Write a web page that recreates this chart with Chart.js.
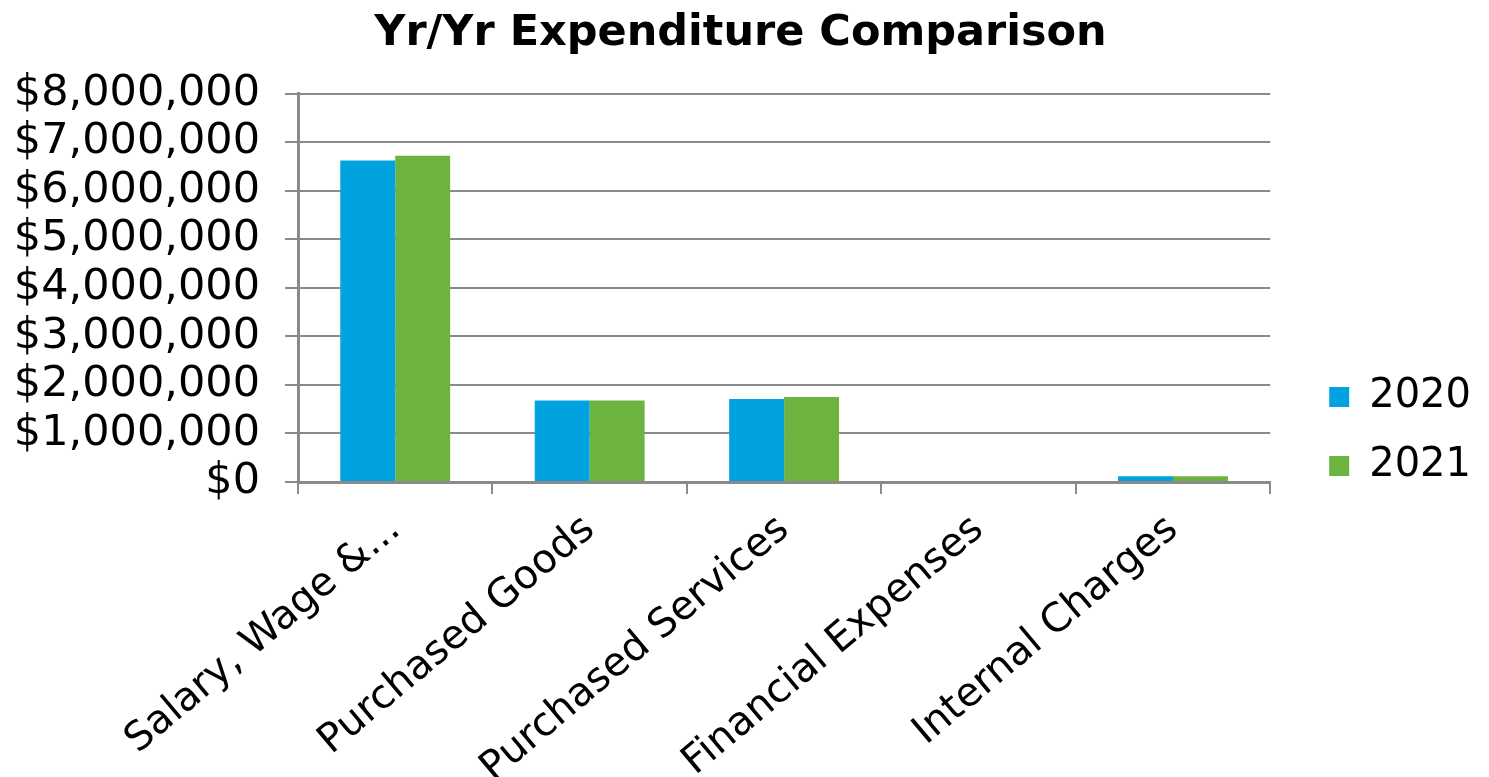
<!DOCTYPE html>
<html>
<head>
<meta charset="utf-8">
<script src="https://cdn.jsdelivr.net/npm/chart.js@4.4.1/dist/chart.umd.min.js"></script>
<style>
  html, body { margin: 0; padding: 0; background: #fff; }
  #wrap { width: 1489px; height: 777px; }
</style>
</head>
<body>
<div id="wrap"><canvas id="expChart"></canvas></div>
<script>
// categories as shown on the axis (first one is truncated in the original)
const categories = ["Salary, Wage &...", "Purchased Goods", "Purchased Services", "Financial Expenses", "Internal Charges"];

// spend per year
const spend2020 = [6620000, 1680000, 1710000, 0, 120000];
const spend2021 = [6720000, 1680000, 1750000, 0, 120000];

const yTicks = [0, 1000000, 2000000, 3000000, 4000000, 5000000, 6000000, 7000000, 8000000];

const gridGray = '#8a8a8a';
Chart.defaults.font.family = "'DejaVu Sans', Verdana, sans-serif";
Chart.defaults.color = '#000';

const ctx = document.getElementById('expChart').getContext('2d');

const chart = new Chart(ctx, {
    type: 'bar',
    data: {
        labels: categories,
        datasets: [
            {
                label: '2020',
                data: spend2020,
                backgroundColor: '#00a3e0',
                categoryPercentage: 0.565,
                barPercentage: 1.0
            },
            {
                label: '2021',
                data: spend2021,
                backgroundColor: '#6db33f',
                categoryPercentage: 0.565,
                barPercentage: 1.0
            }
        ]
    },
    options: {
        responsive: true,
        maintainAspectRatio: false,
        animation: false,
        layout: { padding: { left: 0, right: 8, bottom: 0, top: 0 } },
        plugins: {
            title: {
                display: true,
                text: 'Yr/Yr Expenditure Comparison',
                font: { size: 43, weight: 'bold' },
                color: '#000',
                padding: { top: 8, bottom: 34 }
            },
            legend: {
                position: 'right',
                align: 'center',
                // blank title just pushes the two entries down to where they sit in the original
                title: {
                    display: true,
                    text: ' ',
                    font: { size: 40 },
                    padding: { top: 19, bottom: 19 }
                },
                labels: {
                    boxWidth: 20,
                    boxHeight: 20,
                    padding: 29,
                    font: { size: 40 }
                }
            },
            tooltip: { enabled: false }
        },
        scales: {
            x: {
                grid: {
                    drawOnChartArea: false,
                    drawTicks: true,
                    tickLength: 12,
                    color: gridGray,
                    lineWidth: 2
                },
                border: { color: gridGray, width: 3 },
                ticks: {
                    autoSkip: false,
                    minRotation: 40,
                    maxRotation: 40,
                    padding: 12,
                    font: { size: 40 }
                },
                afterFit: (scale) => { scale.height = 295; }
            },
            y: {
                min: 0,
                max: 8000000,
                afterBuildTicks: (scale) => { scale.ticks = yTicks.map(v => ({ value: v })); },
                afterFit: (scale) => { scale.width = 298; },
                grid: {
                    color: gridGray,
                    lineWidth: 2,
                    tickLength: 13
                },
                border: { color: gridGray, width: 3 },
                ticks: {
                    autoSkip: false,
                    padding: 25,
                    font: { size: 43 },
                    callback: (v) => '$' + Number(v).toLocaleString('en-US')
                }
            },
            gap: {
                type: 'linear',
                position: 'right',
                display: true,
                grid: { display: false },
                border: { display: false },
                ticks: { display: false },
                afterFit: (scale) => { scale.width = 30; }
            }
        }
    }
});
</script>
</body>
</html>
